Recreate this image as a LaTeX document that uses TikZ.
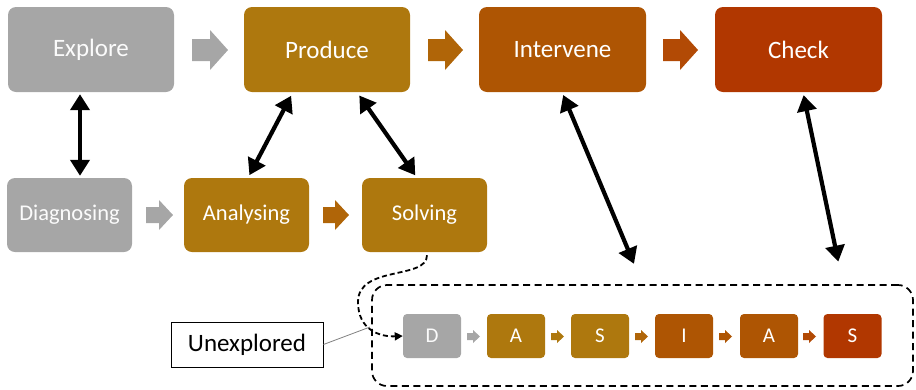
\documentclass[tikz,border=0pt]{standalone}
\usepackage{fontspec}
\setmainfont{Carlito}
\usetikzlibrary{arrows.meta}

\definecolor{stgrey}{HTML}{A6A6A6}
\definecolor{stgold}{HTML}{AE780E}
\definecolor{stamber}{HTML}{B06508}
\definecolor{strust}{HTML}{AE5503}
\definecolor{stflame}{HTML}{B24A05}
\definecolor{stred}{HTML}{B13700}

% block arrow: colour, tail centre, shaft length, head length, shaft half-height, head half-height
\newcommand\blkarrow[6]{%
  \fill[#1] (#2) ++(0,-#5) -- ++(#3,0) -- ++(0,{#5-#6}) -- ++(#4,#6)
    -- ++(-#4,#6) -- ++(0,{#5-#6}) -- ++(-#3,0) -- cycle;}

\begin{document}
\begin{tikzpicture}[x=1pt,y=-1pt,
  stage/.style={rounded corners=8pt, minimum width=166, minimum height=85,
    inner sep=0pt, text=white, font=\fontsize{25}{29}\selectfont},
  substage/.style={stage, minimum width=125, minimum height=74,
    font=\fontsize{22.5}{27}\selectfont},
  mini/.style={rounded corners=4pt, minimum width=58, minimum height=44,
    inner sep=0pt, text=white, font=\fontsize{21}{25}\selectfont},
  link/.style={line width=4.2pt, {Triangle[length=16pt,width=19pt]}-{Triangle[length=16pt,width=19pt]}},
]
\useasboundingbox (0,0) rectangle (916,389);

% top row
\node[stage, fill=stgrey, text=white!95!stgrey] (explore) at (91,49.5) {Explore};
\node[stage, fill=stgold] (produce) at (327,49.5) {Produce};
\node[stage, fill=strust, minimum width=167] (intervene) at (562.5,49.5) {Intervene};
\node[stage, fill=stred, minimum width=167] (check) at (798.5,49.5) {Check};

% second row
\node[substage, fill=stgrey, text=white!95!stgrey] (diag) at (69.5,215) {Diagnosing};
\node[substage, fill=stgold] (anal) at (246.5,215) {Analysing};
\node[substage, fill=stgold] (solv) at (424.5,215) {Solving};

% block arrows
\blkarrow{stgrey}{192,50}{18}{18}{11}{20}
\blkarrow{stamber}{428,50}{17}{18}{11}{20}
\blkarrow{stflame}{663,50}{17}{18}{11}{20}
\blkarrow{stgrey}{146,215}{13}{14}{8}{15}
\blkarrow{stamber}{323,215}{12}{14}{8}{15}

% compact sequence
\node[draw, rounded corners=15pt, dashed, dash pattern=on 7pt off 4.5pt,
  line width=1.7pt, minimum width=541, minimum height=101] (seq) at (642.5,335.5) {};
\node[mini, fill=stgrey, text=white!95!stgrey] (d) at (432,336) {D};
\node[mini, fill=stgold] (a1) at (516,336) {A};
\node[mini, fill=stgold] (s1) at (600,336) {S};
\node[mini, fill=strust] (i) at (684,336) {I};
\node[mini, fill=strust] (a2) at (769,336) {A};
\node[mini, fill=stred] (s2) at (852.5,336) {S};
\blkarrow{stgrey}{467,336.5}{6}{7}{3.5}{6.5}
\blkarrow{stgold}{551,336.5}{6}{7}{3.5}{6.5}
\blkarrow{stamber}{635,336.5}{6}{7}{3.5}{6.5}
\blkarrow{strust}{719,336.5}{6}{7}{3.5}{6.5}
\blkarrow{stflame}{803,336.5}{6}{7}{3.5}{6.5}

% two-way links
\draw[link, shorten <=2pt, shorten >=2pt] ([xshift=-11pt]explore.south) -- ([xshift=10.5pt]diag.north);
\draw[link, shorten <=4pt, shorten >=3pt] ([xshift=-34pt]produce.south) -- ([xshift=1.5pt]anal.north);
\draw[link, shorten <=4pt, shorten >=3pt] ([xshift=30pt]produce.south) -- ([xshift=-7.5pt]solv.north);
\draw[link, shorten <=3pt, shorten >=22pt] ([xshift=-0.5pt]intervene.south) -- (seq.north);
\draw[link, shorten <=3pt, shorten >=23pt] ([xshift=4.5pt]check.south) -- ([xshift=200.5pt]seq.north);

% dashed path from Solving into the sequence
\draw[line width=1.8pt, dash pattern=on 5pt off 3pt, -{Triangle[length=8pt,width=8pt]}]
  ([xshift=2.5pt, yshift=-3pt]solv.south) .. controls (427,280) and (358,265) .. (358,302)
  .. controls (358,330) and (380,337) .. (d.west);

% label
\node[draw, line width=0.9pt, minimum width=152, minimum height=45, inner sep=0pt,
  font=\fontsize{25}{29}\selectfont] (unexp) at (247,344.5) {Unexplored};
\coordinate (unexpend) at (370,327);
\draw[gray, line width=0.8pt] (unexp.east) -- (unexpend);
\end{tikzpicture}
\end{document}
